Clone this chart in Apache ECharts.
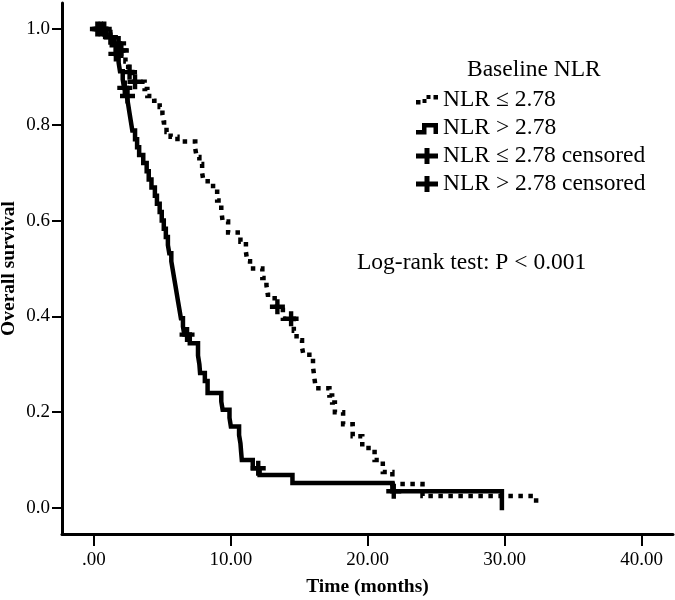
<!DOCTYPE html>
<html><head><meta charset="utf-8">
<script src="https://cdn.jsdelivr.net/npm/echarts@6/dist/echarts.min.js"></script>
<style>html,body{margin:0;padding:0;background:#fff}#c{width:675px;height:600px}</style>
</head><body><div id="c"></div>
<script>
// Kaplan-Meier steps: [time (months), survival]
const lowTimes = [0, 1.2, 1.5, 1.9, 2.3, 2.5, 2.8, 3.7, 3.9, 4.4, 4.8, 5.0, 5.1, 5.3, 5.6, 6.1, 7.4, 7.5, 7.7, 7.9, 8.0, 8.7, 9.0, 9.3, 9.4, 9.8, 10.7, 11.1, 11.2, 11.4, 12.3, 12.6, 12.7, 13.2, 13.8, 14.6, 14.8, 15.2, 15.3, 16.0, 16.1, 16.2, 17.2, 17.4, 17.6, 18.2, 18.9, 19.6, 20.5, 21.1, 21.8, 24.0, 32.3];
const lowSurv  = [1.0, 0.985, 0.97, 0.955, 0.932, 0.91, 0.89, 0.875, 0.86, 0.85, 0.837, 0.822, 0.805, 0.785, 0.775, 0.765, 0.75, 0.733, 0.718, 0.70, 0.682, 0.66, 0.642, 0.622, 0.598, 0.575, 0.556, 0.535, 0.515, 0.50, 0.48, 0.465, 0.445, 0.42, 0.395, 0.37, 0.35, 0.335, 0.32, 0.295, 0.272, 0.25, 0.235, 0.22, 0.20, 0.175, 0.15, 0.125, 0.10, 0.075, 0.05, 0.025, 0.0];
const highTimes = [0, 0.9, 1.3, 1.6, 1.8, 1.9, 2.1, 2.2, 2.4, 2.5, 2.6, 2.7, 2.8, 3.0, 3.15, 3.3, 3.6, 3.85, 4.0, 4.2, 4.45, 4.6, 4.8, 4.95, 5.1, 5.25, 5.4, 5.5, 5.65, 5.75, 5.85, 5.95, 6.05, 6.15, 6.25, 6.35, 6.5, 6.6, 7.0, 7.6, 7.7, 7.75, 8.1, 8.3, 9.3, 9.4, 9.9, 10.0, 10.6, 10.7, 10.75, 10.8, 11.6, 12.1, 14.5, 21.8, 29.8];
const highSurv  = [1.0, 0.983, 0.966, 0.948, 0.93, 0.912, 0.895, 0.877, 0.86, 0.842, 0.824, 0.806, 0.788, 0.77, 0.753, 0.737, 0.72, 0.703, 0.686, 0.669, 0.652, 0.635, 0.618, 0.60, 0.583, 0.566, 0.549, 0.532, 0.515, 0.498, 0.481, 0.464, 0.447, 0.43, 0.413, 0.396, 0.379, 0.362, 0.344, 0.318, 0.30, 0.282, 0.265, 0.24, 0.222, 0.205, 0.188, 0.17, 0.152, 0.135, 0.117, 0.10, 0.083, 0.069, 0.052, 0.035, 0.0];
// censored observations
const lowCensTimes = [0.25, 0.75, 1.8, 2.0, 2.6, 3.0, 13.4, 14.4];
const lowCensSurv  = [1.0, 1.0, 0.97, 0.955, 0.91, 0.89, 0.42, 0.395];
const highCensTimes = [0.5, 1.2, 1.6, 2.25, 2.45, 6.8, 12.0, 21.9];
const highCensSurv  = [1.0, 0.983, 0.948, 0.877, 0.86, 0.362, 0.083, 0.035];
// axes
const xTicks = [0, 10, 20, 30, 40];
const xTickLabels = ['.00', '10.00', '20.00', '30.00', '40.00'];
const yTicks = [0, 0.2, 0.4, 0.6, 0.8, 1.0];
const yTickLabels = ['0.0', '0.2', '0.4', '0.6', '0.8', '1.0'];
const seriesNames = ['NLR \u2264 2.78', 'NLR > 2.78', 'NLR \u2264 2.78 censored', 'NLR > 2.78 censored'];

const pairs = (a, b) => a.map((t, i) => [t, b[i]]);
const FONT = '"Liberation Serif", "DejaVu Serif", serif';
const lookup = (vals, labels) => v => { const i = vals.findIndex(x => Math.abs(x - v) < 1e-6); return i >= 0 ? labels[i] : ''; };

const anchors = 'M0,0h0.01v0.01h-0.01Z M22,16h-0.01v-0.01h0.01Z ';
const iconDots = 'path://' + anchors + 'M0,8h4.5v4.5h-4.5Z M6.5,7h4v4h-4Z M10.5,3h4v4h-4Z M17.5,3h4.5v4.5h-4.5Z';
const iconStep = 'path://' + anchors + 'M0,10H6V3H22V14H17.5V7.5H10.5V14.5H0Z';
const iconPlus = 'path://' + anchors + 'M0,5.5H8.5V0H13.5V5.5H22V10.5H13.5V16H8.5V10.5H0Z';
const plusMark = 'path://M-7.5,-2.2H-2.2V-7.5H2.2V-2.2H7.5V2.2H2.2V7.5H-2.2V2.2H-7.5Z';

const chart = echarts.init(document.getElementById('c'), null, {renderer: 'canvas'});
chart.setOption({
  animation: false,
  backgroundColor: '#fff',
  textStyle: {fontFamily: FONT, color: '#000'},
  title: {
    text: 'Baseline NLR', left: 467, top: 58, padding: 0,
    textStyle: {fontFamily: FONT, fontSize: 23.5, fontWeight: 'normal', color: '#000', lineHeight: 24}
  },
  legend: {
    orient: 'vertical', left: 416, top: 88, padding: 0,
    itemWidth: 22, itemHeight: 16, itemGap: 4, selectedMode: false,
    itemStyle: {color: '#000', borderWidth: 0},
    textStyle: {fontFamily: FONT, fontSize: 23.5, color: '#000', lineHeight: 23.5},
    data: [
      {name: seriesNames[0], icon: iconDots},
      {name: seriesNames[1], icon: iconStep},
      {name: seriesNames[2], icon: iconPlus},
      {name: seriesNames[3], icon: iconPlus}
    ]
  },
  graphic: [{
    type: 'text', x: 357, y: 263,
    style: {text: 'Log-rank test: P < 0.001', font: '23.5px ' + FONT, fill: '#000', verticalAlign: 'middle', align: 'left'}
  }],
  grid: {left: 62, right: 2, top: 3, bottom: 66, containLabel: false, outerBoundsMode: 'none'},
  xAxis: {
    type: 'value', min: -2.336, max: 42.3,
    name: 'Time (months)', nameLocation: 'middle', nameGap: 43, nameMoveOverlap: false,
    nameTextStyle: {fontFamily: FONT, fontSize: 19.5, fontWeight: 'bold', color: '#000'},
    axisLine: {show: true, onZero: false, lineStyle: {color: '#000', width: 3}},
    axisTick: {show: true, length: 12, customValues: xTicks, lineStyle: {color: '#000', width: 2}},
    axisLabel: {customValues: xTicks, formatter: lookup(xTicks, xTickLabels), fontFamily: FONT, fontSize: 19, color: '#000', margin: 17},
    splitLine: {show: false}
  },
  yAxis: {
    type: 'value', min: -0.0543, max: 1.0543,
    name: 'Overall survival', nameLocation: 'middle', nameGap: 43, nameMoveOverlap: false,
    nameTextStyle: {fontFamily: FONT, fontSize: 19.5, fontWeight: 'bold', color: '#000'},
    axisLine: {show: true, onZero: false, lineStyle: {color: '#000', width: 3}},
    axisTick: {show: true, length: 10, customValues: yTicks, lineStyle: {color: '#000', width: 2}},
    axisLabel: {customValues: yTicks, formatter: lookup(yTicks, yTickLabels), fontFamily: FONT, fontSize: 19, color: '#000', margin: 12},
    splitLine: {show: false}
  },
  series: [
    {
      name: seriesNames[0], type: 'line', step: 'end', showSymbol: false, symbol: 'none',
      data: pairs(lowTimes, lowSurv), itemStyle: {color: '#000'},
      lineStyle: {color: '#000', width: 4.5, type: [4.5, 5.5], cap: 'butt', join: 'miter'}, z: 3
    },
    {
      name: seriesNames[1], type: 'line', step: 'end', showSymbol: false, symbol: 'none',
      data: pairs(highTimes, highSurv), itemStyle: {color: '#000'},
      lineStyle: {color: '#000', width: 4.5, type: 'solid', cap: 'square', join: 'miter'}, z: 2
    },
    {
      name: seriesNames[2], type: 'scatter', symbol: plusMark, symbolSize: 15,
      data: pairs(lowCensTimes, lowCensSurv), itemStyle: {color: '#000', opacity: 1}, z: 4
    },
    {
      name: seriesNames[3], type: 'scatter', symbol: plusMark, symbolSize: 15,
      data: pairs(highCensTimes, highCensSurv), itemStyle: {color: '#000', opacity: 1}, z: 4
    }
  ]
});
</script>
</body></html>
